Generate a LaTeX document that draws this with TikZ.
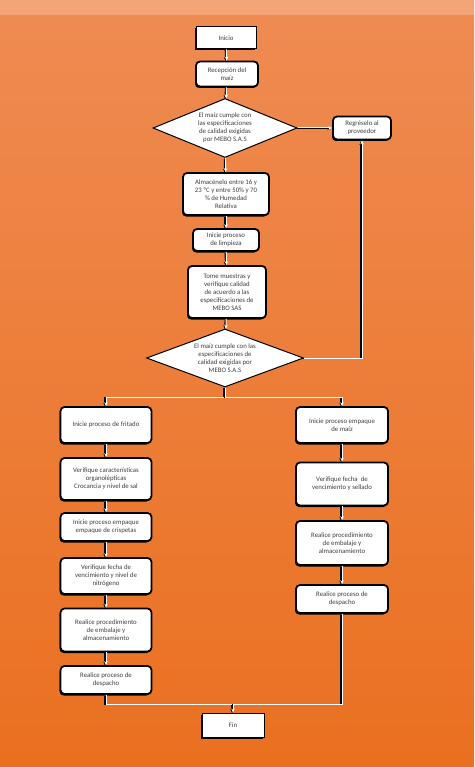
\documentclass[tikz,border=0pt]{standalone}
\usepackage{fontspec}
\setmainfont{Carlito}
\usetikzlibrary{shapes.geometric,shadows,arrows.meta}

\definecolor{bgtop}{HTML}{EF8B52}
\definecolor{bgbot}{HTML}{EA7020}
\definecolor{band}{HTML}{F4A577}
\definecolor{txt}{HTML}{3F3F3F}

\begin{document}
\begin{tikzpicture}[x=1pt, y=-1pt,
    caja/.style={draw=black, fill=white, rounded corners=4pt, line width=1.8pt, align=center, text=txt,
        font=\fontsize{6.8}{8}\selectfont, inner sep=2pt,
        drop shadow={shadow xshift=-1pt, shadow yshift=-1.5pt, fill=black, opacity=1}},
    term/.style={caja, rounded corners=0pt, line width=1pt},
    rombo/.style={diamond, draw=black, fill=white, line width=1pt, align=center, text=txt,
        font=\fontsize{6.8}{8}\selectfont, inner sep=0pt},
    flecha/.style={draw=white, line width=1pt, -{Stealth[length=4pt,width=3.5pt]},
        preaction={draw=black, line width=1.4pt, transform canvas={xshift=-0.9pt, yshift=-0.6pt}}},
    linea/.style={flecha, -}]

    % fondo
    \useasboundingbox (0,0) rectangle (474,767);
    \shade[top color=bgtop, bottom color=bgbot] (0,0) rectangle (474,767);
    \fill[band] (0,0) rectangle (474,15);

    % columna central
    \node[term, minimum width=60pt, minimum height=22pt] (ini) at (226,38) {Inicio};
    \node[caja, minimum width=62pt, minimum height=25pt] (rec) at (227,74) {Recepción del\\maíz};
    \node[rombo, minimum width=144pt, minimum height=59pt, shape aspect=2.4] (d1) at (225,128) {El maíz cumple con\\las especificaciones\\de calidad exigidas\\por MEBO S.A.S};
    \node[caja, minimum width=58pt, minimum height=23pt] (reg) at (362,128) {Regréselo al\\proveedor};
    \node[caja, minimum width=86pt, minimum height=42pt] (alm) at (226,194) {Almacénelo entre 16 y\\23 ºC y entre 50\% y 70\\\% de Humedad\\Relativa};
    \node[caja, minimum width=66pt, minimum height=22pt] (lim) at (226,240) {Inicie proceso\\de limpieza};
    \node[caja, minimum width=78pt, minimum height=52pt] (tom) at (227,292) {Tome muestras y\\verifique calidad\\de acuerdo a las\\especificaciones de\\MEBO SAS};
    \node[rombo, minimum width=157pt, minimum height=58pt, shape aspect=2.7] (d2) at (225,358) {El maíz cumple con las\\especificaciones de\\calidad exigidas por\\MEBO S.A.S};
    \coordinate (br) at (225,397);

    % rama izquierda
    \node[caja, minimum width=91pt, minimum height=36pt] (fri) at (106,425) {Inicie proceso de fritado};
    \node[caja, minimum width=91pt, minimum height=42pt] (org) at (106,479) {Verifique características\\organolépticas\\Crocancia y nivel de sal};
    \node[caja, minimum width=91pt, minimum height=28pt] (cri) at (106,527) {Inicie proceso empaque\\empaque de crispetas};
    \node[caja, minimum width=91pt, minimum height=36pt] (nit) at (106,576) {Verifique fecha de\\vencimiento y nivel de\\nitrógeno};
    \node[caja, minimum width=91pt, minimum height=43pt] (embL) at (106,630) {Realice procedimiento\\de embalaje y\\almacenamiento};
    \node[caja, minimum width=91pt, minimum height=28pt] (desL) at (106,680) {Realice proceso de\\despacho};

    % rama derecha
    \node[caja, minimum width=92pt, minimum height=36pt] (emp) at (342,425) {Inicie proceso empaque\\de maíz};
    \node[caja, minimum width=92pt, minimum height=43pt] (sel) at (342,484) {Verifique fecha\ \ de\\vencimiento y sellado};
    \node[caja, minimum width=92pt, minimum height=44pt] (embR) at (342,543) {Realice procedimiento\\de embalaje y\\almacenamiento};
    \node[caja, minimum width=92pt, minimum height=28pt] (desR) at (342,599) {Realice proceso de\\despacho};

    \coordinate (mg) at (233,704);
    \node[term, minimum width=62pt, minimum height=24pt] (fin) at (233,725) {Fin};

    % conectores
    \draw[flecha] (ini) -- (rec);
    \draw[flecha] (rec) -- (d1);
    \draw[flecha] (d1) -- (alm);
    \draw[flecha] (d1.east) -- (reg.west);
    \draw[flecha] (alm) -- (lim);
    \draw[flecha] (lim) -- (tom);
    \draw[flecha] (tom) -- (d2);
    \draw[flecha] (d2.east) -| (reg.south);
    \draw[linea] (d2.south) -- (br);
    \draw[flecha] (br) -| (fri.north);
    \draw[flecha] (br) -| (emp.north);
    \draw[flecha] (fri) -- (org);
    \draw[flecha] (org) -- (cri);
    \draw[flecha] (cri) -- (nit);
    \draw[flecha] (nit) -- (embL);
    \draw[flecha] (embL) -- (desL);
    \draw[flecha] (emp) -- (sel);
    \draw[flecha] (sel) -- (embR);
    \draw[flecha] (embR) -- (desR);
    \draw[linea] (desL.south) |- (mg);
    \draw[linea] (desR.south) |- (mg);
    \draw[flecha] (mg) -- (fin);
\end{tikzpicture}
\end{document}
